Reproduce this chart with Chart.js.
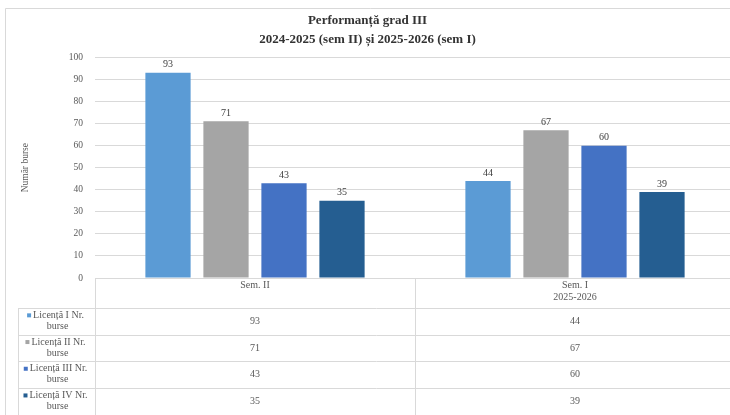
<!DOCTYPE html>
<html>
<head>
<meta charset="utf-8">
<script src="https://cdn.jsdelivr.net/npm/chart.js@4.4.1/dist/chart.umd.min.js"></script>
<style>
  html, body { margin: 0; padding: 0; background: #fff; overflow: hidden; }
  #wrap { width: 730px; height: 415px; position: relative; overflow: hidden; }
  #inner { width: 735px; height: 415px; position: relative; }
</style>
</head>
<body>
<div id="wrap"><div id="inner"><canvas id="grafic"></canvas></div></div>
<script>
// date
const categorii = [['Sem. II'], ['Sem. I', '2025-2026']];
const serii = ['Licență I Nr. burse', 'Licență II Nr. burse', 'Licență III Nr. burse', 'Licență IV Nr. burse'];
const licentaI = [93, 44];
const licentaII = [71, 67];
const licentaIII = [43, 60];
const licentaIV = [35, 39];
const culori = ['#5b9bd5', '#a5a5a5', '#4472c4', '#255e91'];

const FONT = 'Liberation Serif';
const GRI = '#595959';
const LINIE = '#d9d9d9';

// etichete deasupra barelor
const eticheteValori = {
    id: 'eticheteValori',
    afterDatasetsDraw(chart) {
        const ctx = chart.ctx;
        ctx.save();
        ctx.font = '10px "' + FONT + '"';
        ctx.fillStyle = '#404040';
        ctx.textAlign = 'center';
        ctx.textBaseline = 'bottom';
        chart.data.datasets.forEach((ds, i) => {
            chart.getDatasetMeta(i).data.forEach((bar, j) => {
                ctx.fillText(ds.data[j], bar.x, bar.y - 3);
            });
        });
        ctx.restore();
    }
};

// tabelul de date de sub grafic + chenarul
const tabelDate = {
    id: 'tabelDate',
    afterDraw(chart) {
        const ctx = chart.ctx;
        const area = chart.chartArea;
        const x = chart.scales.x;
        const stanga = 18;
        const susRand = 308;
        const hRand = 26.7;
        const jos = chart.height;
        const latime = (x.getPixelForValue(1) - x.getPixelForValue(0));

        ctx.save();
        ctx.strokeStyle = LINIE;
        ctx.lineWidth = 1;

        // chenar exterior
        ctx.beginPath();
        ctx.moveTo(5.5, jos);
        ctx.lineTo(5.5, 8.5);
        ctx.lineTo(chart.width, 8.5);
        ctx.stroke();

        // linii orizontale
        for (let r = 0; r < serii.length; r++) {
            const y = Math.round(susRand + r * hRand) + 0.5;
            ctx.beginPath();
            ctx.moveTo(stanga, y);
            ctx.lineTo(chart.width, y);
            ctx.stroke();
        }
        // linii verticale
        const verticale = [area.left, x.getPixelForValue(0) + latime / 2];
        verticale.forEach(vx => {
            ctx.beginPath();
            ctx.moveTo(Math.round(vx) + 0.5, area.bottom);
            ctx.lineTo(Math.round(vx) + 0.5, jos);
            ctx.stroke();
        });
        ctx.beginPath();
        ctx.moveTo(stanga + 0.5, susRand);
        ctx.lineTo(stanga + 0.5, jos);
        ctx.stroke();

        ctx.fillStyle = GRI;
        ctx.textAlign = 'center';
        ctx.textBaseline = 'middle';

        // antet categorii
        ctx.font = '10px "' + FONT + '"';
        categorii.forEach((cat, i) => {
            const cx = x.getPixelForValue(i);
            cat.forEach((linie, k) => {
                ctx.fillText(linie, cx, area.bottom + 7 + k * 12.5);
            });
        });

        // valori pe randuri
        chart.data.datasets.forEach((ds, r) => {
            const cy = susRand + r * hRand + hRand / 2;
            ds.data.forEach((v, i) => {
                ctx.fillText(v, x.getPixelForValue(i), cy);
            });
            // legenda in prima coloana
            const cLeg = (stanga + area.left) / 2;
            const cuvinte = ds.label.split(' ');
            const l1 = cuvinte.slice(0, -1).join(' ');
            const l2 = cuvinte[cuvinte.length - 1];
            ctx.font = '10px "' + FONT + '"';
            const w1 = ctx.measureText(l1).width;
            const x1 = cLeg + 2;
            ctx.fillText(l1, x1, cy - 6);
            ctx.fillText(l2, cLeg + 1, cy + 5);
            ctx.fillStyle = culori[r];
            ctx.fillRect(x1 - w1 / 2 - 6, cy - 8, 4, 4);
            ctx.fillStyle = GRI;
        });
        ctx.restore();
    }
};

const fundalAlb = {
    id: 'fundalAlb',
    beforeDraw(chart) {
        const ctx = chart.ctx;
        ctx.save();
        ctx.fillStyle = '#ffffff';
        ctx.fillRect(0, 0, chart.width, chart.height);
        ctx.restore();
    }
};

const seturi = [licentaI, licentaII, licentaIII, licentaIV].map((d, i) => ({
    label: serii[i],
    data: d,
    backgroundColor: culori[i],
    borderWidth: 0,
    barPercentage: 0.78,
    categoryPercentage: 0.725
}));

new Chart(document.getElementById('grafic'), {
    type: 'bar',
    data: {
        labels: categorii.map(c => c.join(' ')),
        datasets: seturi
    },
    options: {
        responsive: true,
        maintainAspectRatio: false,
        animation: false,
        layout: { padding: { left: 0, right: 0, top: 0, bottom: 137 } },
        plugins: {
            legend: { display: false },
            tooltip: { enabled: false },
            title: {
                display: true,
                text: ['Performanță grad III', '2024-2025 (sem II) și 2025-2026 (sem I)'],
                color: '#333333',
                font: { family: FONT, size: 13, weight: 'bold', lineHeight: 1.4 },
                padding: { top: 12, bottom: 9 }
            }
        },
        scales: {
            x: {
                display: false
            },
            y: {
                min: 0,
                max: 100,
                ticks: {
                    stepSize: 10,
                    color: GRI,
                    padding: 12,
                    font: { family: FONT, size: 9.5 }
                },
                grid: { color: LINIE, drawTicks: false },
                border: { display: false },
                title: {
                    display: true,
                    text: 'Număr burse',
                    color: GRI,
                    font: { family: FONT, size: 9.5 },
                    padding: { top: 20, bottom: 0 }
                },
                afterFit(scale) { scale.width = 95; }
            }
        }
    },
    plugins: [fundalAlb, eticheteValori, tabelDate]
});
</script>
</body>
</html>
